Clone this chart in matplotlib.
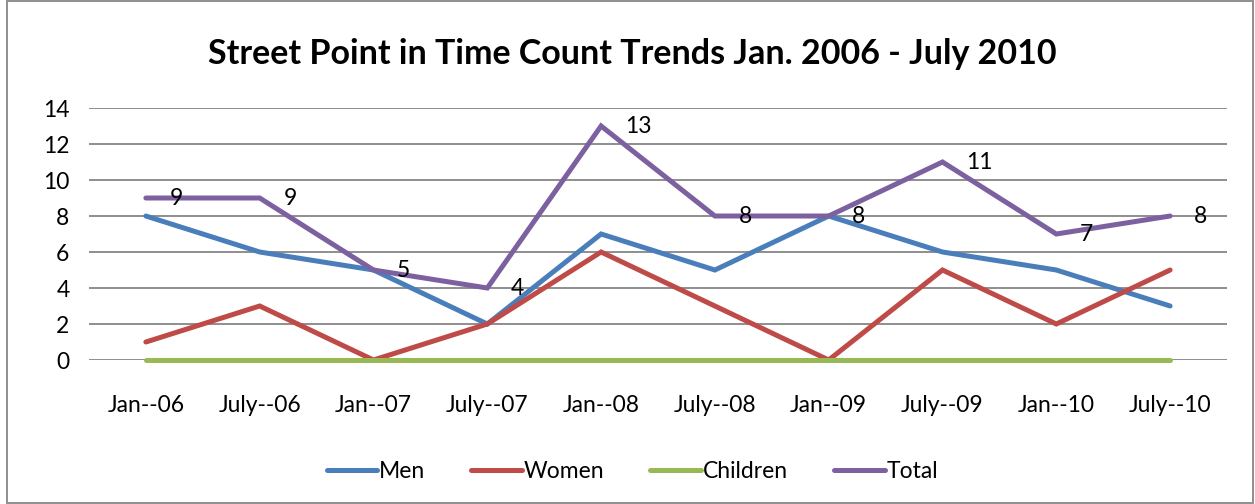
import matplotlib
matplotlib.use("Agg")
import matplotlib.pyplot as plt
from matplotlib.patches import Rectangle

# data
periods = ["Jan--06", "July--06", "Jan--07", "July--07", "Jan--08",
           "July--08", "Jan--09", "July--09", "Jan--10", "July--10"]
men = [8, 6, 5, 2, 7, 5, 8, 6, 5, 3]
women = [1, 3, 0, 2, 6, 3, 0, 5, 2, 5]
children = [0, 0, 0, 0, 0, 0, 0, 0, 0, 0]
total = [9, 9, 5, 4, 13, 8, 8, 11, 7, 8]

plt.rcParams['font.family'] = ['Lato', 'DejaVu Sans']

fig = plt.figure(figsize=(12.55, 5.04), dpi=100)
ax = fig.add_axes([0.0709, 0.2857, 0.9068, 0.5])

x = list(range(len(periods)))
kw = dict(lw=3.6, solid_joinstyle="miter", solid_capstyle="round", clip_on=False)
ax.plot(x, men, color="#4A7EBB", label="Men", **kw)
ax.plot(x, women, color="#BE4B48", label="Women", **kw)
ax.plot(x, children, color="#98B954", label="Children", **kw)
ax.plot(x, total, color="#7D60A0", label="Total", **kw)

for xi, v in zip(x, total):
    ax.annotate(str(v), (xi, v), xytext=(17, 0), textcoords="offset points",
                ha="left", va="center", fontsize=16.5, color="black")

ax.set_xlim(-0.5, len(periods) - 0.5)
ax.set_ylim(0, 14)
ax.set_yticks(range(0, 15, 2))
ax.set_xticks(x)
ax.set_xticklabels(periods)
ax.tick_params(axis="both", length=0, labelsize=16.5)
ax.tick_params(axis="y", pad=14)
ax.tick_params(axis="x", pad=25)
ax.grid(axis="y", color="#868686", lw=1.3)
ax.set_axisbelow(True)
for s in ax.spines.values():
    s.set_visible(False)

fig.text(0.504, 0.893, "Street Point in Time Count Trends Jan. 2006 - July 2010",
         ha="center", va="center", fontsize=24.5, fontweight="bold")

fig.legend(loc="center", bbox_to_anchor=(0.504, 0.064), ncol=4, frameon=False,
           fontsize=16.5, handlelength=2.2, handletextpad=0.1, columnspacing=2.0)

fig.patches.append(Rectangle((7 / 1255, 1 / 504), 1246 / 1255, 502 / 504,
                             transform=fig.transFigure, fill=False,
                             edgecolor="#868686", lw=1.3))

fig.savefig("out.png", dpi=100)
